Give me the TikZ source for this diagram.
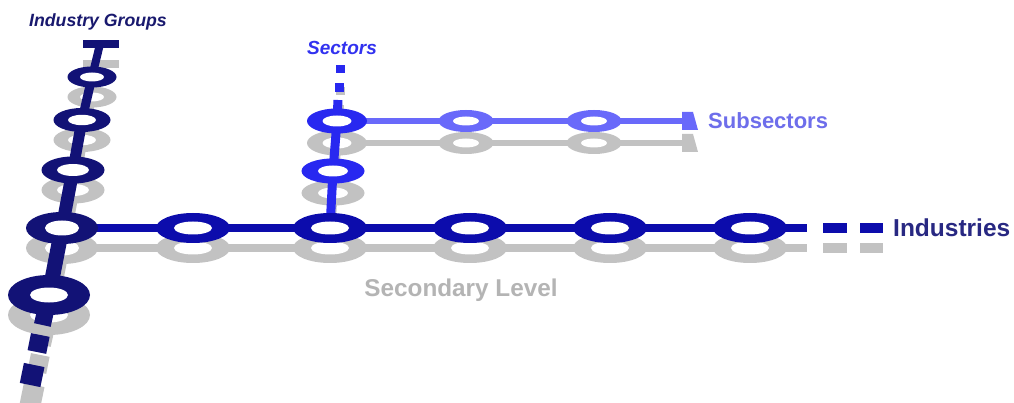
\documentclass[tikz,border=0pt]{standalone}
\usepackage{fontspec}
\setmainfont{Liberation Sans}

\definecolor{groupblue}{RGB}{18,18,118}
\definecolor{indblue}{RGB}{12,12,172}
\definecolor{secblue}{RGB}{40,40,240}
\definecolor{subblue}{RGB}{105,105,250}
\definecolor{shade}{RGB}{194,194,194}
\definecolor{grouptext}{RGB}{25,25,110}
\definecolor{indtext}{RGB}{40,40,130}
\definecolor{sectext}{RGB}{50,50,240}
\definecolor{subtext}{RGB}{110,110,235}
\definecolor{lvltext}{RGB}{180,180,180}

% ring station: centre, outer radii, hole radii, colour
\newcommand\ring[6]{%
  \fill[#6] (#1) ellipse [x radius=#2, y radius=#3];
  \fill[white] (#1) ellipse [x radius=#4, y radius=#5];
}

% the whole line network, drawn in the colours cGroup, cInd, cSec, cSub
\newcommand\network{%
  % industry groups (slanted trunk)
  \coordinate (tL) at (83,44);
  \coordinate (tR) at (119,44);
  \coordinate (gT) at (100,44);
  \coordinate (g1) at (92,77);
  \coordinate (g2) at (82,120);
  \coordinate (g3) at (73,170);
  \coordinate (gJ) at (62,228);
  \coordinate (gB) at (49,295);
  \coordinate (gE) at (42.4,325);
  \coordinate (d1a) at (40.3,335);
  \coordinate (d1b) at (36.9,352);
  \coordinate (d2a) at (34.2,365);
  \coordinate (d2b) at (30.1,385);
  % industries row
  \coordinate (i1) at (193,228);
  \coordinate (i2) at (330,228);
  \coordinate (i3) at (470,228);
  \coordinate (i4) at (610,228);
  \coordinate (i5) at (750,228);
  \coordinate (iE) at (807,228);
  \coordinate (e1a) at (823,228);
  \coordinate (e1b) at (847,228);
  \coordinate (e2a) at (860,228);
  \coordinate (e2b) at (883,228);
  % sectors and subsectors
  \begin{scope}[shift={(0,\secdrop)}]
    \coordinate (s2) at (333,171);
    \coordinate (s1) at (337,121);
    \coordinate (sT) at (338,100);
    \coordinate (f1a) at (339,92);
    \coordinate (f1b) at (339,83);
    \coordinate (f2a) at (340,73);
    \coordinate (f2b) at (340,65);
    \coordinate (u1) at (466,121);
    \coordinate (u2) at (594,121);
    \coordinate (cap) at (682,121);
  \end{scope}
  % connectors
  \draw[cGroup, line width=8] (tL) -- (tR);
  \draw[cGroup, line width=8] (gT) -- (g1);
  \draw[cGroup, line width=9] (g1) -- (g2);
  \draw[cGroup, line width=11] (g2) -- (g3);
  \draw[cGroup, line width=13] (g3) -- (gJ);
  \draw[cGroup, line width=15] (gJ) -- (gB);
  \draw[cGroup, line width=17] (gB) -- (gE);
  \draw[cGroup, line width=19] (d1a) -- (d1b);
  \draw[cGroup, line width=21] (d2a) -- (d2b);
  \draw[cInd, line width=8] (gJ) -- (i1) -- (i2) -- (i3) -- (i4) -- (i5) -- (iE);
  \draw[cInd, line width=10] (e1a) -- (e1b);
  \draw[cInd, line width=10] (e2a) -- (e2b);
  \draw[cSec, line width=9] (i2) -- (s2) -- (s1) -- (sT);
  \draw[cSec, line width=9] (f1a) -- (f1b);
  \draw[cSec, line width=9] (f2a) -- (f2b);
  \draw[cSub, line width=6] (s1) -- (cap);
  \fill[cSub] (cap) ++(0,-9) -- ++(11,0) -- ++(5,18) -- ++(-16,0) -- cycle;
  % stations
  \ring{g1}{24.5}{10.5}{12}{4.5}{cGroup}
  \ring{g2}{28.5}{12}{14}{5.2}{cGroup}
  \ring{g3}{31.5}{13.5}{16}{6}{cGroup}
  \ring{gJ}{36}{16}{17}{7.5}{cGroup}
  \ring{gB}{41}{20}{19}{7.5}{cGroup}
  \ring{i1}{37}{15}{19}{6.5}{cInd}
  \ring{i2}{37}{15}{19}{6.5}{cInd}
  \ring{i3}{37}{15}{19}{6.5}{cInd}
  \ring{i4}{37}{15}{19}{6.5}{cInd}
  \ring{i5}{37}{15}{19}{6.5}{cInd}
  \ring{s2}{31.5}{12.5}{15}{5.5}{cSec}
  \ring{s1}{30}{12.5}{14.5}{5.5}{cSec}
  \ring{u1}{27.5}{11}{13}{4.5}{cSub}
  \ring{u2}{27.5}{11}{13}{4.5}{cSub}
}

\begin{document}
\begin{tikzpicture}[x=1pt, y=-1pt]
  \clip (0,0) rectangle (1014,403);
  \fill[white] (0,0) rectangle (1014,403);

  % cast shadow
  \begin{scope}[shift={(0,20)}]
    \colorlet{cGroup}{shade}\colorlet{cInd}{shade}
    \colorlet{cSec}{shade}\colorlet{cSub}{shade}
    \def\secdrop{2}
    \network
  \end{scope}

  % network
  \begin{scope}
    \colorlet{cGroup}{groupblue}\colorlet{cInd}{indblue}
    \colorlet{cSec}{secblue}\colorlet{cSub}{subblue}
    \def\secdrop{0}
    \network
  \end{scope}

  % labels
  \node[text=grouptext, font=\fontsize{17.7}{20}\selectfont\bfseries\itshape] (lgroups) at (98,22) {Industry Groups};
  \node[text=sectext, font=\fontsize{19}{22}\selectfont\bfseries\itshape] (lsectors) at (342,48) {Sectors};
  \node[text=subtext, font=\fontsize{22}{25}\selectfont\bfseries, anchor=west, inner sep=0pt] (lsub) at (708,121) {Subsectors};
  \node[text=indtext, font=\fontsize{24.5}{28}\selectfont\bfseries, anchor=west, inner sep=0pt] (lind) at (893,228) {Industries};
  \node[text=lvltext, font=\fontsize{24.3}{28}\selectfont\bfseries] (llevel) at (461,290) {Secondary Level};
\end{tikzpicture}
\end{document}
